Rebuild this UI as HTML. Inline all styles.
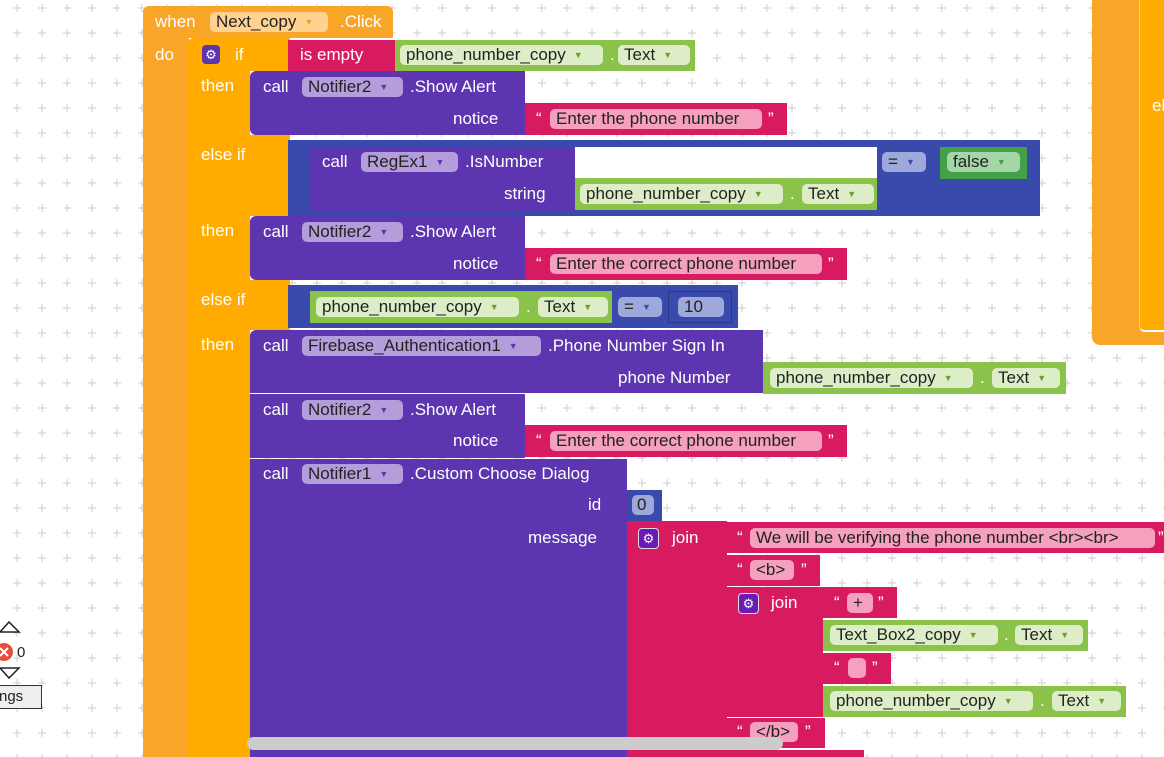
<!DOCTYPE html>
<html><head><meta charset="utf-8"><style>
body{margin:0;width:1164px;height:757px;overflow:hidden;background:#fff;position:relative;font-family:"Liberation Sans",sans-serif;}
.b{position:absolute;}
.t{position:absolute;color:#fff;font-size:17px;line-height:20px;white-space:nowrap;}
.p{position:absolute;height:20px;line-height:20px;font-size:17px;color:#222;border-radius:5px;padding:0 6px;white-space:nowrap;box-sizing:border-box;}
.ar{font-size:9px;vertical-align:2px;margin-left:8px;}
.O{background:#F9A527}.A{background:#FFAB00}.P{background:#5D35B0}.R{background:#D81B60}.G{background:#8BC34A}.B{background:#3A4AAC}
.pp{background:#B39DDB}.pr{background:#F4A0BE}.pg{background:#DCEDC8}.pb{background:#9FA8DA}.po{background:#FFD28F}
.pr .ar{color:#fff}.pg .ar{color:#6a9e30}.pp .ar{color:#5D35B0}.pb .ar{color:#3A4AAC}.po .ar{color:#f0a030}
</style></head><body>
<svg class="b" style="left:0;top:0" width="1164" height="757"><defs><pattern id="g" x="10" y="1" width="25" height="25" patternUnits="userSpaceOnUse"><path d="M7 3v8M3 7h8" stroke="#ccc" stroke-width="1"/></pattern></defs><rect width="1164" height="757" fill="url(#g)"/></svg>

<!-- right block -->
<div class="b O" style="left:1092px;top:0;width:72px;height:345px;border-radius:0 0 0 8px"></div>
<div class="b A" style="left:1139px;top:0;width:25px;height:330px;border-bottom:2px solid #fff;border-left:1px solid #f0d080;border-radius:0 0 0 6px"></div>
<div class="t" style="left:1152px;top:96px">el</div>

<!-- event block -->
<div class="b O" style="left:143px;top:6px;width:250px;height:32px;border-radius:6px 6px 0 0"></div>
<div class="b O" style="left:143px;top:38px;width:46px;height:719px"></div>
<div class="t" style="left:155px;top:12px">when</div>
<div class="p po" style="left:210px;top:12px;width:118px">Next_copy<span class="ar">▼</span></div>
<div class="t" style="left:340px;top:12px">.Click</div>
<div class="t" style="left:155px;top:45px">do</div>

<!-- if block -->
<div class="b A" style="left:188px;top:38px;width:102px;height:33px;border-radius:6px 0 0 0"></div>
<div class="b A" style="left:188px;top:38px;width:62px;height:719px;border-radius:6px 0 0 0"></div>
<div class="b A" style="left:250px;top:135px;width:40px;height:81px"></div>
<div class="b A" style="left:250px;top:280px;width:40px;height:50px"></div>
<div class="b" style="left:202px;top:45px;width:18px;height:19px;background:#5D35B0;border-radius:4px;color:#fff;font-size:13px;text-align:center;line-height:19px">⚙</div>
<div class="t" style="left:235px;top:45px">if</div>
<div class="t" style="left:201px;top:76px">then</div>
<div class="t" style="left:201px;top:145px">else if</div>
<div class="t" style="left:201px;top:221px">then</div>
<div class="t" style="left:201px;top:290px">else if</div>
<div class="t" style="left:201px;top:335px">then</div>

<!-- is empty -->
<div class="b R" style="left:288px;top:40px;width:108px;height:31px"></div>
<div class="t" style="left:300px;top:45px">is empty</div>
<div class="b G" style="left:395px;top:40px;width:300px;height:31px"></div>
<div class="p pg" style="left:400px;top:45px;width:203px">phone_number_copy<span class="ar">▼</span></div>
<div class="t" style="left:610px;top:45px;color:#fff">.</div>
<div class="p pg" style="left:618px;top:45px;width:72px">Text<span class="ar">▼</span></div>

<!-- show alert 1 -->
<div class="b P" style="left:250px;top:71px;width:275px;height:64px;border-radius:6px 0 0 6px"></div>
<div class="t" style="left:263px;top:77px">call</div>
<div class="p pp" style="left:302px;top:77px;width:101px">Notifier2<span class="ar">▼</span></div>
<div class="t" style="left:410px;top:77px">.Show Alert</div>
<div class="t" style="left:453px;top:109px">notice</div>
<div class="b R" style="left:525px;top:103px;width:262px;height:32px"></div>
<div class="t" style="left:536px;top:109px">“</div>
<div class="p pr" style="left:550px;top:109px;width:212px">Enter the phone number</div>
<div class="t" style="left:768px;top:109px">”</div>

<!-- else if 1 -->
<div class="b B" style="left:288px;top:140px;width:752px;height:76px"></div>
<div class="b" style="left:575px;top:147px;width:302px;height:32px;background:transparent"></div>
<div class="b P" style="left:310px;top:147px;width:265px;height:64px"></div>
<div class="b" style="left:575px;top:147px;width:302px;height:31px;background:#fff"></div>
<div class="t" style="left:322px;top:152px">call</div>
<div class="p pp" style="left:361px;top:152px;width:97px">RegEx1<span class="ar">▼</span></div>
<div class="t" style="left:465px;top:152px">.IsNumber</div>
<div class="t" style="left:504px;top:184px">string</div>
<div class="b G" style="left:575px;top:178px;width:302px;height:32px"></div>
<div class="p pg" style="left:580px;top:184px;width:203px">phone_number_copy<span class="ar">▼</span></div>
<div class="t" style="left:790px;top:184px">.</div>
<div class="p pg" style="left:802px;top:184px;width:72px">Text<span class="ar">▼</span></div>
<div class="p pb" style="left:882px;top:152px;width:44px">=<span class="ar">▼</span></div>
<div class="b" style="left:940px;top:147px;width:87px;height:32px;background:#43A047"></div>
<div class="p pg" style="left:947px;top:152px;width:73px;background:#A5D6A7">false<span class="ar" style="color:#43A047">▼</span></div>

<!-- show alert 2 -->
<div class="b P" style="left:250px;top:216px;width:275px;height:64px;border-radius:6px 0 0 6px"></div>
<div class="t" style="left:263px;top:222px">call</div>
<div class="p pp" style="left:302px;top:222px;width:101px">Notifier2<span class="ar">▼</span></div>
<div class="t" style="left:410px;top:222px">.Show Alert</div>
<div class="t" style="left:453px;top:254px">notice</div>
<div class="b R" style="left:525px;top:248px;width:322px;height:32px"></div>
<div class="t" style="left:536px;top:254px">“</div>
<div class="p pr" style="left:550px;top:254px;width:272px">Enter the correct phone number</div>
<div class="t" style="left:828px;top:254px">”</div>

<!-- else if 2 -->
<div class="b B" style="left:288px;top:285px;width:450px;height:43px"></div>
<div class="b G" style="left:310px;top:291px;width:302px;height:32px"></div>
<div class="p pg" style="left:316px;top:297px;width:203px">phone_number_copy<span class="ar">▼</span></div>
<div class="t" style="left:526px;top:297px">.</div>
<div class="p pg" style="left:538px;top:297px;width:70px">Text<span class="ar">▼</span></div>
<div class="p pb" style="left:618px;top:297px;width:44px">=<span class="ar">▼</span></div>
<div class="b B" style="left:668px;top:291px;width:64px;height:32px;border:1px solid #2a388f;box-sizing:border-box"></div>
<div class="p pb" style="left:678px;top:297px;width:46px">10</div>

<!-- firebase -->
<div class="b P" style="left:250px;top:330px;width:513px;height:63px;border-radius:6px 0 0 0"></div>
<div class="t" style="left:263px;top:336px">call</div>
<div class="p pp" style="left:302px;top:336px;width:239px">Firebase_Authentication1<span class="ar">▼</span></div>
<div class="t" style="left:548px;top:336px">.Phone Number Sign In</div>
<div class="t" style="left:618px;top:368px">phone Number</div>
<div class="b G" style="left:763px;top:362px;width:303px;height:32px"></div>
<div class="p pg" style="left:770px;top:368px;width:203px">phone_number_copy<span class="ar">▼</span></div>
<div class="t" style="left:980px;top:368px">.</div>
<div class="p pg" style="left:992px;top:368px;width:68px">Text<span class="ar">▼</span></div>

<!-- show alert 3 -->
<div class="b P" style="left:250px;top:394px;width:275px;height:64px"></div>
<div class="t" style="left:263px;top:400px">call</div>
<div class="p pp" style="left:302px;top:400px;width:101px">Notifier2<span class="ar">▼</span></div>
<div class="t" style="left:410px;top:400px">.Show Alert</div>
<div class="t" style="left:453px;top:431px">notice</div>
<div class="b R" style="left:525px;top:425px;width:322px;height:32px"></div>
<div class="t" style="left:536px;top:431px">“</div>
<div class="p pr" style="left:550px;top:431px;width:272px">Enter the correct phone number</div>
<div class="t" style="left:828px;top:431px">”</div>

<!-- custom choose dialog -->
<div class="b P" style="left:250px;top:459px;width:377px;height:298px"></div>
<div class="t" style="left:263px;top:464px">call</div>
<div class="p pp" style="left:302px;top:464px;width:101px">Notifier1<span class="ar">▼</span></div>
<div class="t" style="left:410px;top:464px">.Custom Choose Dialog</div>
<div class="t" style="left:588px;top:495px">id</div>
<div class="b B" style="left:627px;top:490px;width:35px;height:31px"></div>
<div class="p pb" style="left:632px;top:495px;width:22px;padding:0 5px">0</div>
<div class="t" style="left:528px;top:528px">message</div>

<!-- join -->
<div class="b R" style="left:627px;top:521px;width:100px;height:236px"></div>
<div class="b" style="left:638px;top:528px;width:21px;height:21px;background:#6a1bb5;border:1px solid #ddd;box-sizing:border-box;border-radius:4px;color:#fff;font-size:13px;text-align:center;line-height:19px">⚙</div>
<div class="t" style="left:672px;top:528px">join</div>
<div class="b R" style="left:727px;top:522px;width:437px;height:31px"></div>
<div class="t" style="left:737px;top:528px">“</div>
<div class="p pr" style="left:750px;top:528px;width:405px">We will be verifying the phone number &lt;br&gt;&lt;br&gt;</div>
<div class="t" style="left:1158px;top:528px">”</div>
<div class="b R" style="left:727px;top:555px;width:93px;height:31px"></div>
<div class="t" style="left:737px;top:560px">“</div>
<div class="p pr" style="left:750px;top:560px;width:44px">&lt;b&gt;</div>
<div class="t" style="left:801px;top:560px">”</div>
<div class="b R" style="left:727px;top:587px;width:96px;height:130px"></div>
<div class="b" style="left:738px;top:593px;width:21px;height:21px;background:#6a1bb5;border:1px solid #ddd;box-sizing:border-box;border-radius:4px;color:#fff;font-size:13px;text-align:center;line-height:19px">⚙</div>
<div class="t" style="left:771px;top:593px">join</div>
<div class="b R" style="left:823px;top:587px;width:74px;height:31px"></div>
<div class="t" style="left:834px;top:593px">“</div>
<div class="p pr" style="left:847px;top:593px;width:26px">+</div>
<div class="t" style="left:878px;top:593px">”</div>
<div class="b G" style="left:823px;top:620px;width:265px;height:31px"></div>
<div class="p pg" style="left:830px;top:625px;width:168px">Text_Box2_copy<span class="ar">▼</span></div>
<div class="t" style="left:1004px;top:625px">.</div>
<div class="p pg" style="left:1015px;top:625px;width:68px">Text<span class="ar">▼</span></div>
<div class="b R" style="left:823px;top:653px;width:68px;height:31px"></div>
<div class="t" style="left:834px;top:658px">“</div>
<div class="p pr" style="left:848px;top:658px;width:18px"></div>
<div class="t" style="left:872px;top:658px">”</div>
<div class="b G" style="left:823px;top:686px;width:303px;height:31px"></div>
<div class="p pg" style="left:830px;top:691px;width:203px">phone_number_copy<span class="ar">▼</span></div>
<div class="t" style="left:1040px;top:691px">.</div>
<div class="p pg" style="left:1052px;top:691px;width:69px">Text<span class="ar">▼</span></div>
<div class="b R" style="left:727px;top:718px;width:98px;height:30px"></div>
<div class="t" style="left:737px;top:722px">“</div>
<div class="p pr" style="left:750px;top:722px;width:48px">&lt;/b&gt;</div>
<div class="t" style="left:805px;top:722px">”</div>
<div class="b R" style="left:727px;top:750px;width:137px;height:7px"></div>

<!-- scrollbar -->
<div class="b" style="left:247px;top:737px;width:536px;height:13px;background:#ccc;border-radius:7px"></div>

<!-- left widgets -->
<svg class="b" style="left:0;top:618px" width="50" height="95">
<path d="M0 14L9 4L19 14Z" fill="#fff" stroke="#222" stroke-width="1.5"/>
<circle cx="4" cy="34" r="9" fill="#e74c3c"/>
<path d="M0 30l8 8M8 30l-8 8" stroke="#fff" stroke-width="2"/>
<path d="M0 50L9 60L19 50Z" fill="#fff" stroke="#222" stroke-width="1.5"/>
</svg>
<div class="b" style="left:17px;top:644px;font-size:15px;color:#222">0</div>
<div class="b" style="left:-2px;top:685px;width:44px;height:24px;border:1px solid #333;background:#eee;box-sizing:border-box;font-size:15px;line-height:22px;color:#222">ngs</div>
</body></html>
